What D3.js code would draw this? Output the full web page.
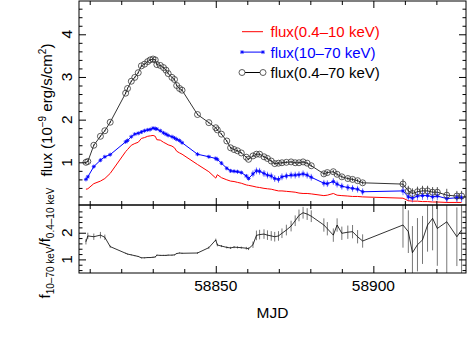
<!DOCTYPE html>
<html>
<head>
<meta charset="utf-8">
<script src="https://cdn.jsdelivr.net/npm/d3@7"></script>
<style>
body { margin: 0; background: #fff; }
text { font-family: "Liberation Sans", Arial, Helvetica, sans-serif; }
</style>
</head>
<body>
<script>

var mjd = [58808.8, 58809.4, 58811.3, 58813.4, 58814.8, 58816.5,
    58821.4, 58822.0, 58823.2, 58824.3, 58825.4, 58826.4, 58827.4, 58828.4, 58829.2, 58830.1,
    58830.8, 58831.3, 58832.4, 58833.4, 58834.2, 58834.9, 58836.1, 58836.9, 58837.6, 58838.5, 58839.3,
    58844.2, 58847.8, 58850.0, 58850.5, 58851.8, 58853.5, 58854.7, 58855.8, 58856.9, 58858.1, 58859.7, 58860.4,
    58861.8, 58862.9, 58863.9, 58865.3, 58866.4, 58867.6, 58868.7, 58869.9, 58871.0, 58872.4, 58873.9,
    58875.2, 58876.4, 58877.7, 58879.0, 58880.3,
    58884.3, 58885.4, 58887.3, 58888.5, 58890.0, 58891.9, 58893.4, 58895.0, 58896.6,
    58909.4, 58911.1, 58912.4, 58914.0, 58915.6, 58917.2, 58918.8, 58920.3, 58923.3, 58926.5, 58928.0];

// flux(0.4-10 keV)
var flux0410 = [0.37, 0.38, 0.50, 0.56, 0.62, 0.74,
    1.25, 1.30, 1.40, 1.44, 1.47, 1.56, 1.58, 1.61, 1.62, 1.63,
    1.61, 1.53, 1.52, 1.47, 1.44, 1.41, 1.38, 1.34, 1.26, 1.22, 1.19,
    0.95, 0.78, 0.63, 0.71, 0.64, 0.59, 0.56, 0.55, 0.53, 0.51, 0.47, 0.46,
    0.44, 0.42, 0.41, 0.39, 0.38, 0.37, 0.35, 0.33, 0.33, 0.32, 0.31,
    0.30, 0.28, 0.27, 0.27, 0.26,
    0.22, 0.23, 0.27, 0.23, 0.22, 0.21, 0.20, 0.20, 0.19,
    0.16, 0.10, 0.09, 0.09, 0.08, 0.08, 0.07, 0.07, 0.06, 0.06, 0.06];

// flux(10-70 keV)
var flux1070 = [0.60, 0.66, 0.90, 1.05, 1.13, 1.18,
    1.48, 1.51, 1.60, 1.66, 1.68, 1.71, 1.74, 1.76, 1.77, 1.80,
    1.79, 1.78, 1.74, 1.69, 1.66, 1.63, 1.60, 1.57, 1.54, 1.51, 1.46,
    1.19, 1.13, 1.09, 1.07, 0.98, 0.86, 0.80, 0.79, 0.78, 0.76, 0.68, 0.62,
    0.73, 0.80, 0.79, 0.74, 0.70, 0.68, 0.62, 0.60, 0.66, 0.68, 0.70,
    0.70, 0.71, 0.73, 0.70, 0.65,
    0.51, 0.50, 0.55, 0.49, 0.44, 0.41, 0.39, 0.37, 0.31,
    0.33, 0.19, 0.16, 0.21, 0.22, 0.22, 0.19, 0.21, 0.15, 0.17, 0.17];

var err1070 = [0.02, 0.02, 0.02, 0.02, 0.02, 0.02,
    0.02, 0.02, 0.02, 0.02, 0.02, 0.02, 0.02, 0.02, 0.02, 0.02,
    0.02, 0.02, 0.02, 0.02, 0.02, 0.02, 0.02, 0.02, 0.02, 0.02, 0.02,
    0.03, 0.03, 0.03, 0.03, 0.03, 0.03, 0.03, 0.03, 0.03, 0.03, 0.03, 0.03,
    0.08, 0.08, 0.08, 0.08, 0.08, 0.08, 0.08, 0.08, 0.08, 0.08, 0.08,
    0.08, 0.08, 0.08, 0.08, 0.08,
    0.08, 0.08, 0.08, 0.08, 0.08, 0.08, 0.08, 0.08, 0.08,
    0.10, 0.10, 0.10, 0.10, 0.10, 0.10, 0.10, 0.10, 0.10, 0.10, 0.10];

// flux(0.4-70 keV)
var flux0470 = [1.00, 1.02, 1.40, 1.61, 1.74, 1.94,
    2.62, 2.73, 2.90, 2.99, 3.10, 3.26, 3.30, 3.36, 3.40, 3.42,
    3.40, 3.29, 3.27, 3.22, 3.16, 3.08, 2.99, 2.94, 2.80, 2.73, 2.69,
    2.12, 1.93, 1.81, 1.76, 1.66, 1.50, 1.34, 1.30, 1.27, 1.22, 1.12, 1.07,
    1.15, 1.19, 1.19, 1.13, 1.09, 1.03, 0.97, 0.98, 0.99, 1.00, 1.01,
    0.99, 0.99, 1.01, 0.98, 0.92,
    0.73, 0.76, 0.78, 0.72, 0.66, 0.62, 0.60, 0.57, 0.52,
    0.49, 0.33, 0.27, 0.31, 0.33, 0.33, 0.30, 0.30, 0.23, 0.21, 0.21];

var err0470 = [0.02, 0.02, 0.02, 0.02, 0.02, 0.02,
    0.02, 0.02, 0.02, 0.02, 0.02, 0.02, 0.02, 0.02, 0.02, 0.02,
    0.02, 0.02, 0.02, 0.02, 0.02, 0.02, 0.02, 0.02, 0.02, 0.02, 0.02,
    0.02, 0.02, 0.02, 0.02, 0.02, 0.02, 0.02, 0.02, 0.02, 0.02, 0.02, 0.02,
    0.03, 0.03, 0.03, 0.03, 0.03, 0.03, 0.03, 0.03, 0.03, 0.03, 0.03,
    0.03, 0.03, 0.03, 0.03, 0.03,
    0.04, 0.04, 0.04, 0.04, 0.04, 0.04, 0.04, 0.04, 0.04,
    0.12, 0.12, 0.12, 0.12, 0.12, 0.12, 0.12, 0.12, 0.15, 0.12, 0.12];

// f(10-70 keV) / f(0.4-10 keV)
var ratio = [1.66, 1.88, 1.85, 1.91, 1.83, 1.48,
    1.23, 1.20, 1.17, 1.14, 1.11, 1.06, 1.06, 1.07, 1.07, 1.08,
    1.09, 1.16, 1.15, 1.15, 1.15, 1.16, 1.16, 1.17, 1.22, 1.24, 1.23,
    1.24, 1.44, 1.73, 1.54, 1.50, 1.45, 1.43, 1.46, 1.45, 1.44, 1.42, 1.40,
    1.55, 1.90, 1.93, 1.95, 1.91, 1.88, 1.85, 1.88, 1.98, 2.10, 2.25,
    2.45, 2.65, 2.75, 2.70, 2.62,
    2.29, 2.15, 1.91, 2.29, 1.98, 2.02, 2.04, 1.85, 1.69,
    2.29, 2.04, 1.25, 1.55, 1.73, 2.29, 2.54, 2.16, 2.41, 1.85, 2.10];

var ratioErr = [0.10, 0.12, 0.12, 0.12, 0.10, 0.04,
    0.02, 0.02, 0.02, 0.02, 0.02, 0.02, 0.02, 0.02, 0.02, 0.02,
    0.02, 0.02, 0.02, 0.02, 0.02, 0.02, 0.02, 0.02, 0.02, 0.02, 0.02,
    0.03, 0.04, 0.05, 0.05, 0.04, 0.04, 0.04, 0.04, 0.04, 0.04, 0.05, 0.05,
    0.12, 0.18, 0.18, 0.18, 0.18, 0.18, 0.18, 0.18, 0.18, 0.20, 0.20,
    0.20, 0.22, 0.22, 0.22, 0.22,
    0.25, 0.25, 0.25, 0.25, 0.25, 0.25, 0.25, 0.25, 0.25,
    0.85, 0.80, 1.00, 1.00, 0.90, 1.00, 1.20, 1.40, 3.00, 1.10, 3.00];

var xMajor = [58850, 58900];
var xMinor = [58810, 58820, 58830, 58840, 58860, 58870, 58880, 58890, 58910, 58920];
var yTopLabels = [1, 2, 3, 4];
var yBotLabels = [1, 2];
var legendLabels = ["flux(0.4\u201310 keV)", "flux(10\u201370 keV)", "flux(0.4\u201370 keV)"];

var width = 471,
    height = 343,
    left = 79,
    right = 466,
    topY = 1,
    mid = 205,
    bottom = 273;

var data = mjd.map(function(t, i) {
    return { t: t, red: flux0410[i], blue: flux1070[i], be: err1070[i],
             black: flux0470[i], ke: err0470[i], r: ratio[i], re: ratioErr[i] };
});

var x = d3.scaleLinear().domain([58806.6, 58929.4]).range([left, right]);
var yTop = d3.scaleLinear().domain([0, 4.78]).range([mid, topY]);
var yBot = d3.scaleLinear().domain([0.49, 3.04]).range([bottom, mid]);

var svg = d3.select("body").append("svg")
    .attr("width", width)
    .attr("height", height);

var defs = svg.append("defs");
defs.append("clipPath").attr("id", "clipTop").append("rect")
    .attr("x", left).attr("y", topY).attr("width", right - left).attr("height", mid - topY);
defs.append("clipPath").attr("id", "clipBot").append("rect")
    .attr("x", left).attr("y", mid).attr("width", right - left).attr("height", bottom - mid);

// ---- top panel
var gTop = svg.append("g").attr("clip-path", "url(#clipTop)");

gTop.selectAll(".kerr").data(data).enter().append("line")
    .attr("x1", function(d) { return x(d.t); }).attr("x2", function(d) { return x(d.t); })
    .attr("y1", function(d) { return yTop(d.black - d.ke); })
    .attr("y2", function(d) { return yTop(d.black + d.ke); })
    .attr("stroke", "#555").attr("stroke-width", 1);

gTop.selectAll(".berr").data(data).enter().append("line")
    .attr("x1", function(d) { return x(d.t); }).attr("x2", function(d) { return x(d.t); })
    .attr("y1", function(d) { return yTop(d.blue - d.be); })
    .attr("y2", function(d) { return yTop(d.blue + d.be); })
    .attr("stroke", "#7a7aff").attr("stroke-width", 1);

var lineRed = d3.line().x(function(d) { return x(d.t); }).y(function(d) { return yTop(d.red); });
var lineBlue = d3.line().x(function(d) { return x(d.t); }).y(function(d) { return yTop(d.blue); });
var lineBlack = d3.line().x(function(d) { return x(d.t); }).y(function(d) { return yTop(d.black); });

gTop.append("path").datum(data).attr("d", lineRed)
    .attr("fill", "none").attr("stroke", "#ff0000").attr("stroke-width", 1);
gTop.append("path").datum(data).attr("d", lineBlue)
    .attr("fill", "none").attr("stroke", "#0000ff").attr("stroke-width", 1);
gTop.append("path").datum(data).attr("d", lineBlack)
    .attr("fill", "none").attr("stroke", "#000").attr("stroke-width", 0.8);

var star = "M-2,0H2M0,-2V2M-1.4,-1.4L1.4,1.4M-1.4,1.4L1.4,-1.4";

gTop.selectAll(".bmark").data(data).enter().append("path")
    .attr("transform", function(d) { return "translate(" + x(d.t) + "," + yTop(d.blue) + ")"; })
    .attr("d", star).attr("fill", "none").attr("stroke", "#0000ff").attr("stroke-width", 0.8);

gTop.selectAll(".kmark").data(data).enter().append("circle")
    .attr("cx", function(d) { return x(d.t); })
    .attr("cy", function(d) { return yTop(d.black); })
    .attr("r", 3)
    .attr("fill", "none").attr("stroke", "#333").attr("stroke-width", 0.8);

// ---- bottom panel
var gBot = svg.append("g").attr("clip-path", "url(#clipBot)");

gBot.selectAll(".rerr").data(data).enter().append("line")
    .attr("x1", function(d) { return x(d.t); }).attr("x2", function(d) { return x(d.t); })
    .attr("y1", function(d) { return yBot(d.r - d.re); })
    .attr("y2", function(d) { return yBot(d.r + d.re); })
    .attr("stroke", "#777").attr("stroke-width", 1);

gBot.append("path").datum(data)
    .attr("d", d3.line().x(function(d) { return x(d.t); }).y(function(d) { return yBot(d.r); }))
    .attr("fill", "none").attr("stroke", "#000").attr("stroke-width", 0.8);

// ---- frames and ticks
function tickAxis(axis, y, major, minor) {
    var g = svg.append("g").attr("transform", "translate(0," + y + ")");
    g.append("g").call(axis(x).tickValues(minor).tickSize(4).tickFormat(""));
    g.append("g").call(axis(x).tickValues(major).tickSize(7).tickFormat(""));
    g.selectAll(".domain").remove();
    g.selectAll("line").attr("stroke", "#000");
}
tickAxis(d3.axisBottom, topY, xMajor, xMinor);
tickAxis(d3.axisTop, mid, xMajor, xMinor);
tickAxis(d3.axisBottom, mid, xMajor, xMinor);
tickAxis(d3.axisTop, bottom, xMajor, xMinor);

function yTicks(scale, lo, hi, majors) {
    var minors = d3.range(lo, hi, 0.2).filter(function(v) {
        return Math.abs(v - Math.round(v)) > 0.01;
    });
    [[d3.axisRight, left], [d3.axisLeft, right]].forEach(function(p) {
        var g = svg.append("g").attr("transform", "translate(" + p[1] + ",0)");
        g.append("g").call(p[0](scale).tickValues(minors).tickSize(3.5).tickFormat(""));
        g.append("g").call(p[0](scale).tickValues(majors).tickSize(7).tickFormat(""));
        g.selectAll(".domain").remove();
        g.selectAll("line").attr("stroke", "#000");
    });
}
yTicks(yTop, 0.2, 4.75, yTopLabels);
yTicks(yBot, 0.6, 3.02, yBotLabels);

svg.append("rect").attr("x", left).attr("y", topY).attr("width", right - left).attr("height", mid - topY)
    .attr("fill", "none").attr("stroke", "#000").attr("stroke-width", 1);
svg.append("rect").attr("x", left).attr("y", mid).attr("width", right - left).attr("height", bottom - mid)
    .attr("fill", "none").attr("stroke", "#000").attr("stroke-width", 1);

// ---- tick labels
svg.selectAll(".xlab").data(xMajor).enter().append("text")
    .attr("x", function(d) { return x(d); }).attr("y", 291)
    .attr("text-anchor", "middle").attr("font-size", 15.5)
    .text(function(d) { return d; });

function yLabels(scale, vals) {
    svg.selectAll(null).data(vals).enter().append("text")
        .attr("transform", function(d) { return "translate(72," + scale(d) + ") rotate(-90)"; })
        .attr("text-anchor", "middle").attr("font-size", 15.5)
        .text(function(d) { return d; });
}
yLabels(yTop, yTopLabels);
yLabels(yBot, yBotLabels);

svg.append("text").attr("x", (left + right) / 2).attr("y", 318)
    .attr("text-anchor", "middle").attr("font-size", 15.5).text("MJD");

// y titles
var t1 = svg.append("text").attr("transform", "translate(52,110) rotate(-90)")
    .attr("text-anchor", "middle").attr("font-size", 15);
t1.append("tspan").text("flux (10");
t1.append("tspan").attr("dy", -6).attr("font-size", 10).text("\u22129");
t1.append("tspan").attr("dy", 6).text(" erg/s/cm");
t1.append("tspan").attr("dy", -6).attr("font-size", 10).text("2");
t1.append("tspan").attr("dy", 6).text(")");

var t2 = svg.append("text").attr("transform", "translate(50,243) rotate(-90)")
    .attr("text-anchor", "middle").attr("font-size", 15);
t2.append("tspan").text("f");
t2.append("tspan").attr("dy", 4).attr("font-size", 10).text("10\u201370 keV");
t2.append("tspan").attr("dy", -4).text("/f");
t2.append("tspan").attr("dy", 4).attr("font-size", 10).text("0.4\u201310 keV");

// ---- legend
var legColors = ["#ff0000", "#0000ff", "#000"];
var leg = svg.selectAll(".leg").data(legendLabels).enter().append("g")
    .attr("transform", function(d, i) { return "translate(0," + (31.7 + i * 20.4) + ")"; });
leg.append("line").attr("x1", 242).attr("x2", 263).attr("y1", 0).attr("y2", 0)
    .attr("stroke", function(d, i) { return legColors[i]; }).attr("stroke-width", 1);
leg.append("text").attr("x", 270.5).attr("y", 5.5).attr("font-size", 15)
    .attr("fill", function(d, i) { return legColors[i]; })
    .text(function(d) { return d; });
leg.filter(function(d, i) { return i === 1; }).selectAll("path").data([242, 263]).enter().append("path")
    .attr("transform", function(d) { return "translate(" + d + ",0)"; })
    .attr("d", star).attr("fill", "none").attr("stroke", "#0000ff").attr("stroke-width", 0.8);
leg.filter(function(d, i) { return i === 2; }).selectAll("circle").data([242, 263]).enter().append("circle")
    .attr("cx", function(d) { return d; }).attr("cy", 0).attr("r", 3)
    .attr("fill", "#fff").attr("stroke", "#333").attr("stroke-width", 0.8);

</script>
</body>
</html>
